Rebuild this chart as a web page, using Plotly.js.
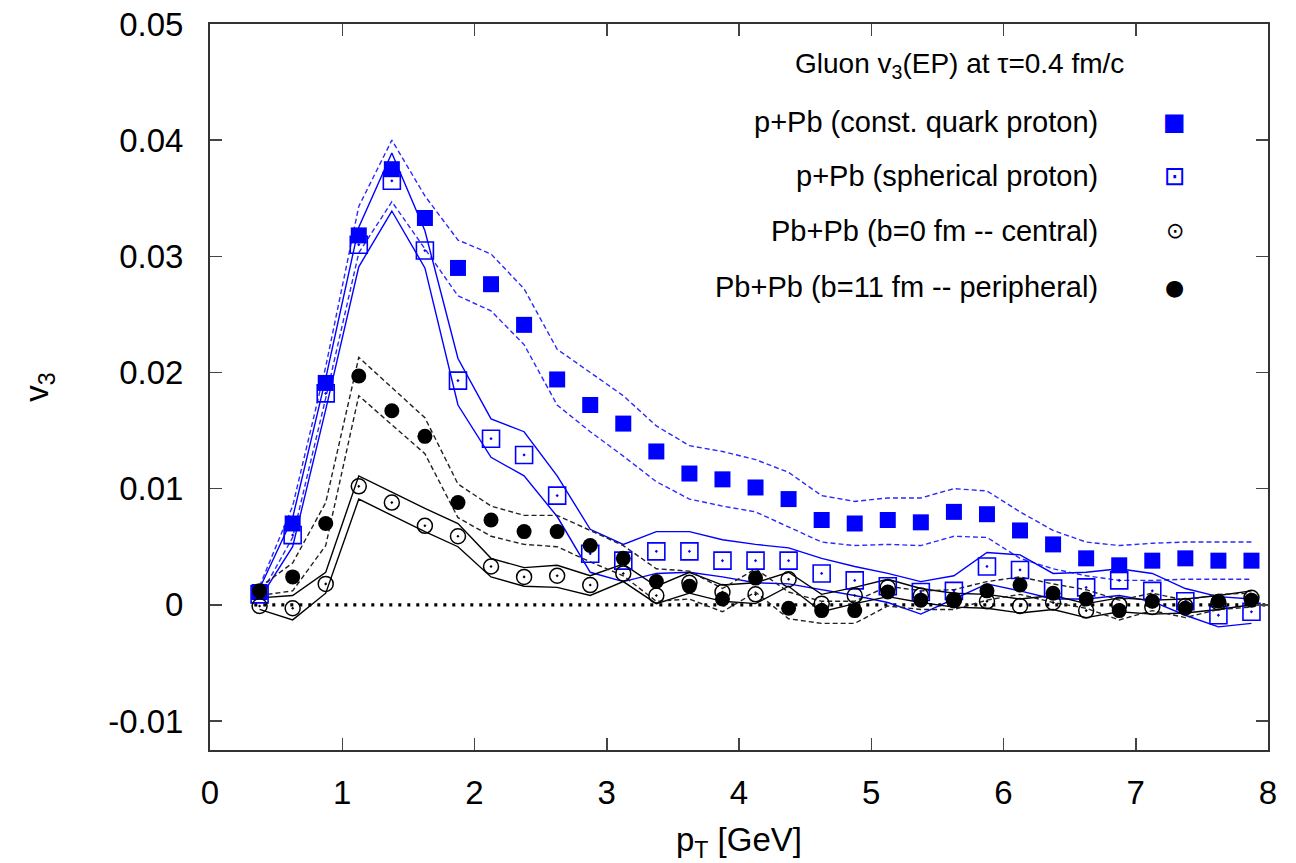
<!DOCTYPE html>
<html>
<head>
<meta charset="utf-8">
<script src="https://cdn.plot.ly/plotly-3.0.1.min.js"></script>
<style>html,body{margin:0;padding:0;background:#fff;}#chart{width:1296px;height:863px;}</style>
</head>
<body>
<div id="chart"></div>
<script>
// pT bin centres [GeV]
const pT = [0.375,0.625,0.875,1.125,1.375,1.625,1.875,2.125,2.375,2.625,2.875,3.125,3.375,3.625,3.875,4.125,4.375,4.625,4.875,5.125,5.375,5.625,5.875,6.125,6.375,6.625,6.875,7.125,7.375,7.625,7.875];

// p+Pb (const. quark proton)
const cqVal = [0.0011,0.0070,0.0191,0.0318,0.0375,0.0333,0.0290,0.0276,0.0241,0.0194,0.0172,0.0156,0.0132,0.0113,0.0108,0.0101,0.0091,0.0073,0.0070,0.0073,0.0071,0.0080,0.0078,0.0064,0.0052,0.0040,0.0034,0.0038,0.0040,0.0038,0.0038];
const cqUp  = [0.0016,0.0085,0.0205,0.0343,0.0400,0.0352,0.0314,0.0302,0.0272,0.0220,0.0200,0.0180,0.0154,0.0137,0.0132,0.0125,0.0114,0.0094,0.0089,0.0092,0.0092,0.0100,0.0098,0.0080,0.0064,0.0054,0.0051,0.0053,0.0054,0.0054,0.0054];
const cqLo  = [0.0007,0.0058,0.0178,0.0303,0.0347,0.0307,0.0266,0.0253,0.0224,0.0172,0.0149,0.0128,0.0106,0.0091,0.0085,0.0080,0.0067,0.0054,0.0051,0.0052,0.0051,0.0059,0.0058,0.0040,0.0031,0.0025,0.0021,0.0021,0.0022,0.0022,0.0022];

// p+Pb (spherical proton)
const spVal = [0.0009,0.0060,0.0182,0.0310,0.0365,0.0305,0.0193,0.0143,0.0129,0.0094,0.0044,0.0038,0.0046,0.0046,0.0038,0.0038,0.0038,0.0027,0.0021,0.0016,0.0011,0.0012,0.0033,0.0030,0.0014,0.0015,0.0021,0.0012,0.0003,-0.0009,-0.0006];
const spUp  = [0.0014,0.0075,0.0195,0.0325,0.0389,0.0322,0.0212,0.0160,0.0149,0.0111,0.0065,0.0052,0.0063,0.0063,0.0056,0.0052,0.0049,0.0040,0.0033,0.0027,0.0020,0.0025,0.0045,0.0043,0.0027,0.0028,0.0031,0.0027,0.0014,0.0007,0.0005];
const spLo  = [0.0005,0.0050,0.0168,0.0291,0.0339,0.0290,0.0172,0.0127,0.0111,0.0076,0.0028,0.0020,0.0027,0.0028,0.0024,0.0019,0.0018,0.0013,0.0008,0.0002,-0.0008,0.0005,0.0018,0.0012,0.0005,0.0005,0.0008,0.0003,-0.0009,-0.0019,-0.0016];

// Pb+Pb (b=0 fm -- central)
const ceVal = [-0.0001,-0.0003,0.0018,0.0102,0.0088,0.0068,0.0059,0.0033,0.0024,0.0025,0.0017,0.0027,0.0008,0.0019,0.0011,0.0009,0.0022,0.0001,0.0008,0.0015,0.0008,0.0004,0.0003,-0.0001,0.0002,-0.0005,0.0000,-0.0002,-0.0001,0.0002,0.0006];
const ceUp  = [0.0006,0.0008,0.0028,0.0111,0.0097,0.0083,0.0070,0.0040,0.0032,0.0034,0.0025,0.0035,0.0016,0.0028,0.0017,0.0019,0.0028,0.0009,0.0015,0.0022,0.0014,0.0010,0.0009,0.0005,0.0008,0.0001,0.0006,0.0004,0.0005,0.0008,0.0012];
const ceLo  = [-0.0004,-0.0013,0.0010,0.0091,0.0077,0.0063,0.0050,0.0024,0.0016,0.0015,0.0008,0.0020,0.0001,0.0010,0.0003,0.0001,0.0016,-0.0006,0.0001,0.0007,0.0002,-0.0002,-0.0003,-0.0007,-0.0004,-0.0011,-0.0006,-0.0008,-0.0007,-0.0004,0.0000];

// Pb+Pb (b=11 fm -- peripheral)
const peVal = [0.0012,0.0024,0.0070,0.0197,0.0167,0.0145,0.0088,0.0073,0.0063,0.0063,0.0051,0.0040,0.0020,0.0016,0.0005,0.0023,-0.0003,-0.0005,-0.0005,0.0011,0.0004,0.0004,0.0012,0.0017,0.0010,0.0005,-0.0005,0.0003,-0.0003,0.0003,0.0004];
const peUp  = [0.0015,0.0036,0.0088,0.0213,0.0187,0.0161,0.0104,0.0085,0.0077,0.0077,0.0064,0.0051,0.0031,0.0029,0.0014,0.0031,0.0011,0.0003,0.0003,0.0016,0.0012,0.0013,0.0020,0.0024,0.0018,0.0013,0.0004,0.0010,0.0004,0.0009,0.0010];
const peLo  = [0.0008,0.0012,0.0051,0.0180,0.0155,0.0130,0.0075,0.0059,0.0052,0.0050,0.0037,0.0025,0.0003,0.0005,-0.0006,0.0011,-0.0012,-0.0016,-0.0016,-0.0001,-0.0004,-0.0004,0.0004,0.0009,0.0002,-0.0003,-0.0013,-0.0005,-0.0011,-0.0004,-0.0002];

const seriesNames = ["p+Pb (const. quark proton)","p+Pb (spherical proton)","Pb+Pb (b=0 fm -- central)","Pb+Pb (b=11 fm -- peripheral)"];
const legendGlyphs = ["\u25A0","\u22A1","\u2299","\u25CF"];
const xTickVals = [0,1,2,3,4,5,6,7,8];
const yTickVals = [-0.01,0,0.01,0.02,0.03,0.04,0.05];
const yTickText = ["-0.01","0","0.01","0.02","0.03","0.04","0.05"];
const xRange = [0,8];
const yRange = [-0.0125,0.05];

const BLUE = "#0000ff";
const BLUE_D = "#2a2aff";
const BLACK = "#000000";

function band(y, color, dash){
  return {x: pT, y: y, mode: "lines", type: "scatter", showlegend: false, hoverinfo: "skip",
          line: {color: color, width: 1.4, dash: dash}};
}

const traces = [
  // zero reference line
  {x: [pT[0] - 0.04, xRange[1]], y: [0, 0], mode: "lines", showlegend: false, hoverinfo: "skip",
   line: {color: BLACK, width: 3.2, dash: "3px,6px"}},
  band(cqUp, BLUE_D, "5px,3px"), band(cqLo, BLUE_D, "5px,3px"),
  band(spUp, BLUE, "solid"), band(spLo, BLUE, "solid"),
  band(ceUp, BLACK, "solid"), band(ceLo, BLACK, "solid"),
  band(peUp, "#222", "5px,3px"), band(peLo, "#222", "5px,3px"),
  {x: pT, y: cqVal, mode: "markers", name: seriesNames[0], showlegend: false,
   marker: {symbol: "square", size: 16, color: BLUE, line: {width: 0}}},
  {x: pT, y: spVal, mode: "markers", name: seriesNames[1], showlegend: false,
   marker: {symbol: "square-open-dot", size: 17, color: BLUE, line: {width: 1.6, color: BLUE}}},
  {x: pT, y: ceVal, mode: "markers", name: seriesNames[2], showlegend: false,
   marker: {symbol: "circle-open-dot", size: 15, color: BLACK, line: {width: 1.5, color: BLACK}}},
  {x: pT, y: peVal, mode: "markers", name: seriesNames[3], showlegend: false,
   marker: {symbol: "circle", size: 15, color: BLACK, line: {width: 0}}}
];

const FONT = "Liberation Sans, Arial, Helvetica, sans-serif";
const legendY = [0.865, 0.7906, 0.7149, 0.6377];
const glyphColors = [BLUE, BLUE, BLACK, BLACK];
const glyphSizes = [24, 26, 22, 22];
const annotations = [
  {xref: "paper", yref: "paper", x: 0.708, y: 0.9435, xanchor: "center", yanchor: "middle", showarrow: false,
   text: "Gluon v<sub>3</sub>(EP) at \u03C4=0.4 fm/c", font: {family: FONT, size: 28, color: "#000"}}
];
for (let i = 0; i < seriesNames.length; i++) {
  annotations.push({xref: "paper", yref: "paper", x: 0.8412, y: legendY[i], xanchor: "right", yanchor: "middle",
    showarrow: false, text: seriesNames[i], font: {family: FONT, size: 29, color: "#000"}});
  annotations.push({xref: "paper", yref: "paper", x: 0.912, y: legendY[i], xanchor: "center", yanchor: "middle",
    showarrow: false, text: legendGlyphs[i], font: {family: "DejaVu Sans", size: glyphSizes[i], color: glyphColors[i]}});
}

const axisCommon = {
  showgrid: false, zeroline: false, showline: true, linecolor: "#333", linewidth: 2,
  mirror: "ticks", ticks: "inside", ticklen: 12, tickwidth: 1.5, tickcolor: "#444",
  tickfont: {family: FONT, size: 33, color: "#000"}
};

const layout = {
  width: 1296, height: 863,
  margin: {l: 210, r: 28, t: 24, b: 113},
  paper_bgcolor: "#fff", plot_bgcolor: "#fff",
  showlegend: false,
  xaxis: Object.assign({}, axisCommon, {
    range: xRange, tickvals: xTickVals, ticklabelstandoff: 12,
    title: {text: "p<sub>T</sub> [GeV]", font: {family: FONT, size: 33, color: "#000"}, standoff: 20}
  }),
  yaxis: Object.assign({}, axisCommon, {
    range: yRange, tickvals: yTickVals, ticktext: yTickText, ticklabelstandoff: 18,
    title: {text: "v<sub>3</sub>", font: {family: FONT, size: 33, color: "#000"}, standoff: 50}
  }),
  annotations: annotations
};

Plotly.newPlot("chart", traces, layout, {staticPlot: true, displayModeBar: false});
</script>
</body>
</html>
